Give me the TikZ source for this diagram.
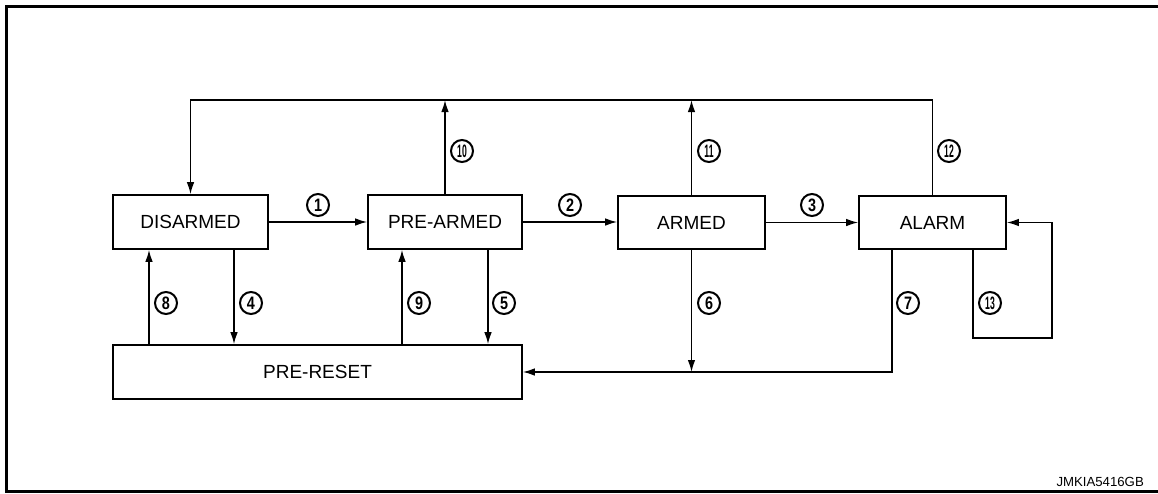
\documentclass[tikz,border=0pt]{standalone}
\usepackage{fontspec}
\usepackage{graphicx}
\setmainfont{Liberation Sans}
\usetikzlibrary{arrows.meta}
\tikzset{
  state/.style={draw, line width=1.6pt, rectangle, inner sep=0pt, font=\fontsize{19}{22}\selectfont},
  arr/.style={line width=1.4pt, -{Latex[length=12pt,width=7.5pt]}},
  lab/.style={circle, draw, line width=2pt, minimum size=22pt, inner sep=0pt, font=\fontsize{18}{18}\selectfont\bfseries},
}
\newcommand{\cnA}[1]{\scalebox{0.8}[1]{#1}}
\newcommand{\cnB}[1]{\scalebox{0.48}[1]{#1}}
\begin{document}
\begin{tikzpicture}[x=1pt,y=-1pt]
\useasboundingbox (0,0) rectangle (1158,493);
\draw[line width=3pt] (1158,6.3) -- (6.5,6.3) -- (6.5,491.8) -- (1158,491.8);

\node[state, minimum width=155pt, minimum height=54pt] (disarmed) at (190.5,222) {DISARMED};
\node[state, minimum width=154pt, minimum height=54pt] (prearmed) at (445,222) {PRE-ARMED};
\node[state, minimum width=147pt, minimum height=53pt] (armed) at (691.5,222.5) {ARMED};
\node[state, minimum width=147pt, minimum height=53pt] (alarm) at (932.5,222.5) {ALARM};
\node[state, minimum width=409pt, minimum height=54pt] (prereset) at (317.5,372) {PRE-RESET};

% horizontal transitions
\draw[arr] (disarmed.east) -- (prearmed.west);
\draw[arr] (prearmed.east) -- (armed.west |- prearmed.east);
\draw[arr] (armed.east) -- (alarm.west);

% top return line
\coordinate (top) at (0,100);
\draw[arr] (alarm.north) -- (alarm.north |- top) -- (disarmed.north |- top) -- (disarmed.north);
\draw[arr] (prearmed.north) -- (prearmed.north |- top);
\draw[arr] (armed.north) -- (armed.north |- top);

% vertical arrows to/from PRE-RESET
\coordinate (x8) at (149,0);
\coordinate (x4) at (234,0);
\coordinate (x9) at (402,0);
\coordinate (x5) at (488,0);
\draw[arr] (prereset.north -| x8) -- (disarmed.south -| x8);
\draw[arr] (disarmed.south -| x4) -- (prereset.north -| x4);
\draw[arr] (prereset.north -| x9) -- (prearmed.south -| x9);
\draw[arr] (prearmed.south -| x5) -- (prereset.north -| x5);

% 6 and 7
\draw[arr] (armed.south) -- (armed.south |- prereset.east);
\coordinate (x7) at (892,0);
\draw[arr] (alarm.south -| x7) -- (x7 |- prereset.east) -- (prereset.east);

% 13 loop
\coordinate (l1) at (973,338);
\coordinate (l2) at (1052,338);
\draw[arr] (alarm.south -| l1) -- (l1) -- (l2) -- (l2 |- alarm.east) -- (alarm.east);

% labels
\node[lab] (n1) at (318,205) {\cnA{1}};
\node[lab] (n2) at (570,205) {\cnA{2}};
\node[lab] (n3) at (812,205) {\cnA{3}};
\node[lab] (n4) at (251,303) {\cnA{4}};
\node[lab] (n5) at (504,303) {\cnA{5}};
\node[lab] (n6) at (709,303) {\cnA{6}};
\node[lab] (n7) at (908,303) {\cnA{7}};
\node[lab] (n8) at (166,303) {\cnA{8}};
\node[lab] (n9) at (419,303) {\cnA{9}};
\node[lab] (n10) at (462,151) {\cnB{10}};
\node[lab] (n11) at (709,151) {\cnB{11}};
\node[lab] (n12) at (949,151) {\cnB{12}};
\node[lab] (n13) at (990,303) {\cnB{13}};

\node[anchor=east, inner sep=0pt, font=\fontsize{13.2}{15}\selectfont] (code) at (1144,482) {JMKIA5416GB};
\end{tikzpicture}
\end{document}
